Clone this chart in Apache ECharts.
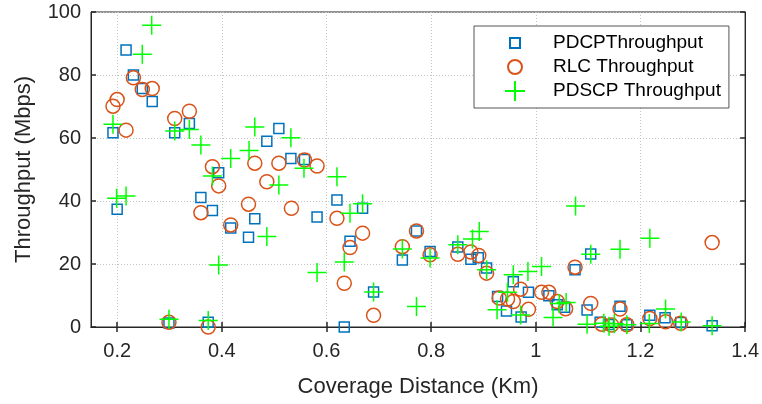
<!DOCTYPE html>
<html>
<head>
<meta charset="utf-8">
<title>Throughput vs Coverage Distance</title>
<script src="https://cdn.jsdelivr.net/npm/echarts@6/dist/echarts.min.js"></script>
<style>
    html, body { margin: 0; padding: 0; background: #fff; }
    #throughput_scatter { width: 762px; height: 404px; }
</style>
</head>
<body>
<div id="throughput_scatter"></div>
<script>

// Chart data
// ------------------------------

// Series names
var seriesNames = ['PDCPThroughput', 'RLC Throughput', 'PDSCP Throughput'];

// Tick values
var xTicks = [0.2, 0.4, 0.6, 0.8, 1, 1.2, 1.4];
var yTicks = [0, 20, 40, 60, 80, 100];

// [coverage distance (Km), throughput (Mbps)]
var pdcpPoints = [
    [0.192, 61.7], [0.200, 37.4], [0.217, 87.9], [0.231, 80.0], [0.248, 75.7],
    [0.267, 71.6], [0.299, 1.3], [0.310, 61.7], [0.338, 64.6], [0.360, 41.1],
    [0.374, 1.5], [0.382, 37.0], [0.394, 49.0], [0.417, 31.4], [0.451, 28.5],
    [0.463, 34.4], [0.486, 59.0], [0.509, 63.0], [0.532, 53.5], [0.558, 53.2],
    [0.582, 34.9], [0.620, 40.3], [0.634, 0.0], [0.645, 27.2], [0.669, 37.7],
    [0.690, 11.1], [0.745, 21.3], [0.772, 30.5], [0.798, 24.0], [0.851, 25.4],
    [0.876, 21.5], [0.890, 22.0], [0.906, 18.7], [0.927, 9.7], [0.944, 5.1],
    [0.957, 14.4], [0.972, 3.2], [0.986, 11.0], [1.025, 9.9], [1.041, 7.1],
    [1.055, 6.3], [1.075, 18.2], [1.098, 5.4], [1.105, 23.2], [1.123, 1.5],
    [1.139, 0.8], [1.161, 6.6], [1.174, 0.7], [1.218, 3.7], [1.247, 2.9],
    [1.277, 1.4], [1.337, 0.4]
];

var rlcPoints = [
    [0.192, 70.1], [0.200, 72.2], [0.217, 62.5], [0.231, 79.1], [0.248, 75.4],
    [0.267, 75.7], [0.299, 1.5], [0.310, 66.2], [0.338, 68.5], [0.360, 36.3],
    [0.374, 0.0], [0.382, 50.9], [0.394, 44.8], [0.417, 32.4], [0.451, 39.0],
    [0.463, 52.0], [0.486, 46.1], [0.509, 52.0], [0.533, 37.7], [0.558, 53.0],
    [0.582, 51.1], [0.620, 34.5], [0.634, 13.9], [0.645, 25.2], [0.669, 29.8],
    [0.690, 3.7], [0.745, 25.5], [0.772, 30.5], [0.798, 22.9], [0.851, 23.1],
    [0.876, 23.8], [0.891, 22.7], [0.906, 17.1], [0.930, 9.2], [0.946, 8.9],
    [0.957, 8.1], [0.971, 12.0], [0.986, 5.6], [1.011, 11.0], [1.025, 11.0],
    [1.041, 8.1], [1.057, 5.8], [1.075, 19.0], [1.105, 7.5], [1.126, 0.9],
    [1.145, 0.6], [1.161, 5.7], [1.174, 0.7], [1.218, 2.7], [1.248, 1.7],
    [1.277, 1.2], [1.337, 26.8]
];

var pdscpPoints = [
    [0.192, 64.4], [0.199, 40.9], [0.217, 41.6], [0.248, 86.6], [0.266, 95.8],
    [0.299, 2.5], [0.310, 62.2], [0.338, 62.7], [0.360, 57.8], [0.374, 2.1],
    [0.382, 47.9], [0.394, 19.7], [0.417, 53.5], [0.452, 56.0], [0.463, 63.5],
    [0.486, 28.7], [0.509, 45.1], [0.532, 60.1], [0.557, 50.4], [0.582, 17.3],
    [0.620, 47.7], [0.634, 20.6], [0.645, 36.1], [0.669, 39.1], [0.690, 11.1],
    [0.745, 24.8], [0.772, 6.5], [0.798, 21.9], [0.851, 26.1], [0.879, 27.9],
    [0.892, 30.3], [0.906, 18.2], [0.926, 5.5], [0.946, 11.0], [0.957, 16.6],
    [0.971, 3.8], [0.985, 17.6], [1.011, 19.2], [1.033, 3.0], [1.045, 7.5],
    [1.058, 7.8], [1.076, 38.4], [1.098, 0.9], [1.105, 23.1], [1.130, 1.2],
    [1.140, 0.2], [1.150, 1.0], [1.161, 24.7], [1.174, 0.7], [1.217, 1.1],
    [1.218, 28.2], [1.248, 5.7], [1.278, 1.6], [1.337, 0.4]
];


// Setup module
// ------------------------------

var EchartsThroughputScatter = function() {

    var _throughputScatter = function() {
        if (typeof echarts == 'undefined') {
            console.warn('Warning - echarts.min.js is not loaded.');
            return;
        }

        // Define element
        var scatter_element = document.getElementById('throughput_scatter');

        if (scatter_element) {

            // Initialize chart
            var scatter_chart = echarts.init(scatter_element, null, { renderer: 'canvas' });

            var textColor = '#262626';
            var fontFamily = '"Liberation Sans", Arial, Helvetica, sans-serif';

            // Shared axis pieces
            var gridLine = {
                show: true,
                lineStyle: { color: '#c4c4c4', type: [1, 2], width: 1 }
            };
            var innerTick = {
                show: true,
                inside: true,
                length: 5,
                lineStyle: { color: textColor, width: 1.5 }
            };

            // Options
            scatter_chart.setOption({

                animation: false,

                textStyle: {
                    fontFamily: fontFamily
                },

                // Setup grid
                grid: {
                    left: 91,
                    right: 14,
                    top: 12,
                    bottom: 77,
                    show: true,
                    borderColor: textColor,
                    borderWidth: 1
                },

                // Add legend
                legend: {
                    orient: 'vertical',
                    left: 474,
                    top: 26,
                    padding: [6, 8, 6, 30],
                    itemWidth: 66,
                    itemHeight: 20,
                    itemGap: 2,
                    backgroundColor: '#fff',
                    borderColor: '#555',
                    borderWidth: 1,
                    textStyle: {
                        fontSize: 19,
                        color: '#000',
                        fontFamily: fontFamily
                    },
                    data: [
                        { name: seriesNames[0], icon: 'path://M5,5L15,5L15,15L5,15Z M0,0L0,0 M20,20L20,20' },
                        { name: seriesNames[1], icon: 'path://M3,10A7,7 0 1 1 17,10A7,7 0 1 1 3,10Z M0,0L0,0 M20,20L20,20' },
                        { name: seriesNames[2], icon: 'path://M0,10L20,10M10,0L10,20' }
                    ]
                },

                // Horizontal axes
                xAxis: [{
                    type: 'value',
                    min: 0.15,
                    max: 1.4,
                    name: 'Coverage Distance (Km)',
                    nameLocation: 'middle',
                    nameGap: 49,
                    nameTextStyle: { fontSize: 22, color: textColor },
                    axisLine: { show: true, lineStyle: { color: textColor, width: 1 } },
                    axisTick: Object.assign({ customValues: xTicks }, innerTick),
                    axisLabel: {
                        customValues: xTicks,
                        fontSize: 20,
                        color: textColor,
                        margin: 14
                    },
                    splitLine: gridLine
                }, {
                    type: 'value',
                    position: 'top',
                    min: 0.15,
                    max: 1.4,
                    axisLine: { show: true, lineStyle: { color: textColor, width: 1 } },
                    axisTick: Object.assign({ customValues: xTicks }, innerTick),
                    axisLabel: { show: false },
                    splitLine: { show: false }
                }],

                // Vertical axes
                yAxis: [{
                    type: 'value',
                    min: 0,
                    max: 100,
                    interval: 20,
                    name: 'Throughput (Mbps)',
                    nameLocation: 'middle',
                    nameGap: 56,
                    nameTextStyle: { fontSize: 22, color: textColor },
                    axisLine: { show: true, lineStyle: { color: textColor, width: 1 } },
                    axisTick: innerTick,
                    axisLabel: {
                        fontSize: 20,
                        color: textColor,
                        margin: 10
                    },
                    splitLine: gridLine
                }, {
                    type: 'value',
                    position: 'right',
                    min: 0,
                    max: 100,
                    interval: 20,
                    axisLine: { show: true, lineStyle: { color: textColor, width: 1 } },
                    axisTick: innerTick,
                    axisLabel: { show: false },
                    splitLine: { show: false }
                }],

                // Add series
                series: [
                    {
                        name: seriesNames[0],
                        type: 'scatter',
                        clip: false,
                        symbol: 'rect',
                        symbolSize: 10,
                        itemStyle: {
                            color: 'transparent',
                            borderColor: '#0072BD',
                            borderWidth: 1.5,
                            opacity: 1
                        },
                        data: pdcpPoints
                    },
                    {
                        name: seriesNames[1],
                        type: 'scatter',
                        clip: false,
                        symbol: 'circle',
                        symbolSize: 14,
                        itemStyle: {
                            color: 'transparent',
                            borderColor: '#D95319',
                            borderWidth: 1.5,
                            opacity: 1
                        },
                        data: rlcPoints
                    },
                    {
                        name: seriesNames[2],
                        type: 'scatter',
                        clip: false,
                        symbol: 'path://M0,10L20,10M10,0L10,20',
                        symbolSize: 19,
                        itemStyle: {
                            color: 'transparent',
                            borderColor: '#00FF00',
                            borderWidth: 1.5,
                            opacity: 1
                        },
                        data: pdscpPoints
                    }
                ]
            });
        }
    };

    return {
        init: function() {
            _throughputScatter();
        }
    }
}();


// Initialize module
// ------------------------------

document.addEventListener('DOMContentLoaded', function() {
    EchartsThroughputScatter.init();
});
</script>
</body>
</html>
